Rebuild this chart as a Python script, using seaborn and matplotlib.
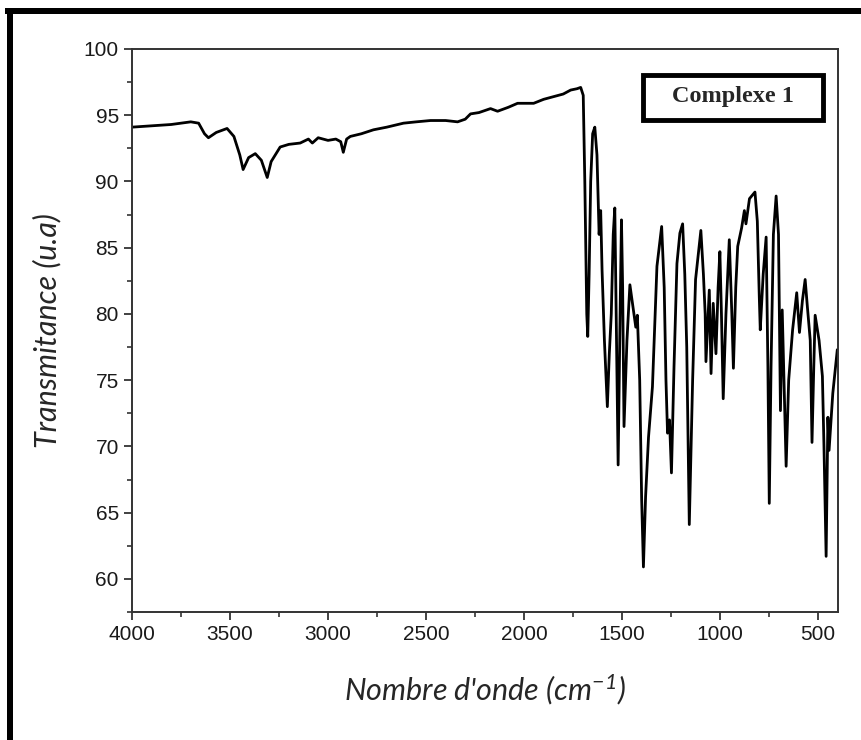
import numpy as np
import pandas as pd
import seaborn as sns
import matplotlib.pyplot as plt
from matplotlib.patches import Rectangle
from matplotlib.ticker import MultipleLocator

# IR spectrum of "Complexe 1"
wavenumber = [4000, 3900, 3800, 3700, 3660, 3630, 3610, 3570, 3515, 3480, 3450, 3433, 3405, 3371,
              3340, 3310, 3290, 3244, 3200, 3142, 3100, 3080, 3050, 3000, 2960, 2935, 2922, 2905,
              2886, 2830, 2768, 2700, 2615, 2550, 2477, 2400, 2339, 2300, 2273, 2230, 2171, 2135,
              2080, 2033, 1990, 1951, 1900, 1849, 1800, 1762, 1730, 1711, 1698, 1690, 1680, 1675,
              1668, 1660, 1650, 1639, 1628, 1617, 1609, 1602, 1590, 1575, 1565, 1555, 1545, 1537,
              1530, 1520, 1510, 1503, 1497, 1490, 1475, 1460, 1445, 1430, 1422, 1410, 1400, 1391,
              1380, 1365, 1345, 1322, 1298, 1285, 1276, 1268, 1258, 1248, 1235, 1220, 1205, 1191,
              1180, 1170, 1157, 1140, 1125, 1098, 1085, 1076, 1072, 1055, 1046, 1035, 1021, 1010,
              1001, 993, 984, 970, 953, 940, 932, 920, 910, 890, 876, 868, 850, 822, 810, 800, 795,
              780, 765, 756, 749, 740, 728, 714, 702, 692, 683, 672, 663, 650, 630, 609, 595, 580,
              566, 555, 540, 531, 522, 515, 495, 478, 470, 459, 450, 444, 425, 402]
transmittance = [94.1, 94.2, 94.3, 94.5, 94.4, 93.6, 93.3, 93.7, 94.0, 93.4, 92.0, 90.9, 91.8, 92.1,
                 91.6, 90.3, 91.5, 92.6, 92.8, 92.9, 93.2, 92.9, 93.3, 93.1, 93.2, 93.0, 92.2, 93.2,
                 93.4, 93.6, 93.9, 94.1, 94.4, 94.5, 94.6, 94.6, 94.5, 94.7, 95.1, 95.2, 95.5, 95.3,
                 95.6, 95.9, 95.9, 95.9, 96.2, 96.4, 96.6, 96.9, 97.0, 97.1, 96.5, 90.0, 80.0, 78.3,
                 83.0, 90.0, 93.6, 94.1, 92.0, 86.0, 87.8, 83.3, 78.0, 73.0, 77.0, 80.0, 86.0, 88.0,
                 80.0, 68.6, 80.0, 87.1, 82.0, 71.5, 78.0, 82.2, 80.6, 79.0, 79.9, 75.0, 66.0, 60.9,
                 66.2, 70.7, 74.5, 83.6, 86.6, 82.0, 75.0, 71.0, 72.0, 68.0, 76.0, 83.8, 86.1, 86.8,
                 83.0, 77.5, 64.1, 75.0, 82.6, 86.3, 83.0, 80.0, 76.4, 81.8, 75.5, 80.8, 77.0, 82.0,
                 84.7, 80.0, 73.6, 80.0, 85.6, 80.0, 75.9, 82.0, 85.1, 86.5, 87.8, 86.8, 88.7, 89.2,
                 87.0, 81.3, 78.8, 83.0, 85.8, 76.0, 65.7, 76.0, 86.0, 88.9, 86.0, 72.7, 80.3, 73.8,
                 68.5, 75.0, 78.8, 81.6, 78.6, 81.0, 82.6, 80.6, 78.0, 70.3, 76.0, 79.9, 78.0, 75.3,
                 70.0, 61.7, 72.2, 69.7, 74.0, 77.3]

df = pd.DataFrame({'wn': wavenumber, 'T': transmittance})

sns.set_theme(style="ticks")
plt.rcParams['font.family'] = ['Liberation Sans', 'DejaVu Sans']
plt.rcParams['mathtext.fontset'] = 'custom'
plt.rcParams['mathtext.rm'] = 'Lato:italic'
plt.rcParams['mathtext.it'] = 'Lato:italic'

fig = plt.figure(figsize=(8.62, 7.40), dpi=100)
ax = fig.add_axes([0.1531, 0.173, 0.8187, 0.7608])

sns.lineplot(data=df, x='wn', y='T', sort=False, estimator=None,
             color='black', linewidth=2.0, ax=ax)

ax.set_xlim(4000, 400)
ax.set_ylim(57.5, 100)
ax.xaxis.set_major_locator(MultipleLocator(500))
ax.xaxis.set_minor_locator(MultipleLocator(250))
ax.yaxis.set_major_locator(MultipleLocator(5))
ax.yaxis.set_minor_locator(MultipleLocator(2.5))

for side in ['left', 'bottom', 'top', 'right']:
    ax.spines[side].set_color('#333333')
    ax.spines[side].set_linewidth(1.4)

ax.tick_params(which='major', direction='out', length=6, width=1.3, color='#333333',
               labelsize=15, labelcolor='#1a1a1a', top=False, right=False)
ax.tick_params(which='minor', direction='out', length=3.5, width=1.2, color='#333333',
               top=False, right=False)

ax.set_xlabel("Nombre d'onde (cm$^{-1}$)", fontfamily='Lato', fontstyle='italic',
              fontsize=22, labelpad=20)
ax.set_ylabel("Transmitance (u.a)", fontfamily='Lato', fontstyle='italic',
              fontsize=22, labelpad=16)

# label box in the top right corner
ax.add_patch(Rectangle((0.7238, 0.874), 0.255, 0.0799, transform=ax.transAxes,
                       facecolor='white', edgecolor='black', linewidth=3.5, zorder=5))
ax.text(0.851, 0.915, "Complexe 1", transform=ax.transAxes, ha='center', va='center',
        fontfamily='Liberation Serif', fontweight='bold', fontsize=17.5, zorder=6)

# black frame on top and left of the picture
fig.add_artist(Rectangle((5 / 862, 1 - 14 / 740), 857 / 862, 6 / 740,
                         transform=fig.transFigure, color='black', lw=0))
fig.add_artist(Rectangle((7 / 862, 0), 6 / 862, 1 - 8 / 740,
                         transform=fig.transFigure, color='black', lw=0))

fig.savefig('out.png', dpi=100)
